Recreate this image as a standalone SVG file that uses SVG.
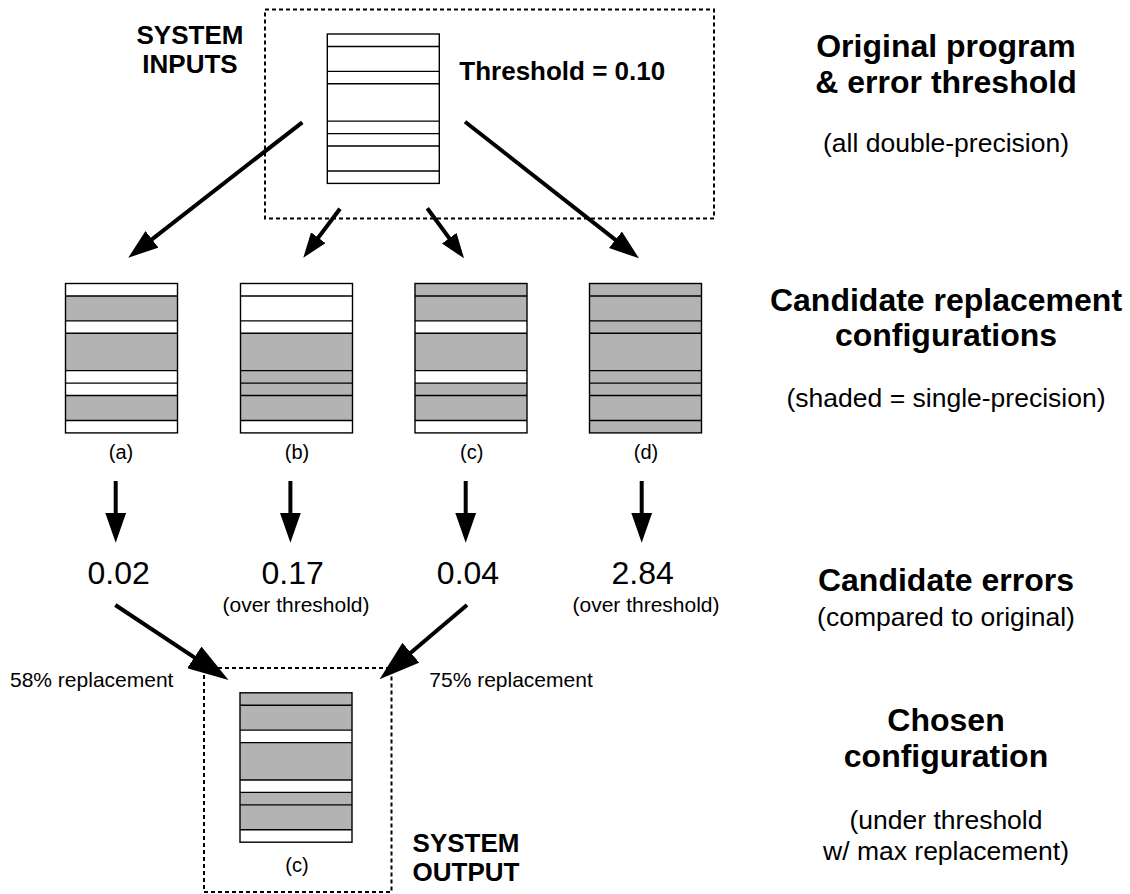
<svg xmlns="http://www.w3.org/2000/svg" xmlns:xlink="http://www.w3.org/1999/xlink" width="1130" height="894" viewBox="0 0 1130 894">
<style>
text{font-family:"Liberation Sans",Arial,sans-serif;fill:#000}
.b{font-weight:bold}
.title{font-weight:bold;font-size:32px;text-anchor:middle}
.sub{font-size:26.5px;text-anchor:middle}
.big{font-weight:bold;font-size:26px}
.lab{font-size:20px;text-anchor:middle}
.num{font-size:32px;text-anchor:middle}
.small{font-size:21px}
.shade{fill:#b3b3b3}
.grid{fill:none;stroke:#000;stroke-width:1.4}
.dash{fill:none;stroke:#000;stroke-width:2;stroke-dasharray:4 3}
.arr{stroke:#000;stroke-width:4;fill:none}
</style>
<defs>
<g id="grid" class="grid">
<rect x="0" y="0" width="112" height="149.4"/>
<path d="M0 12.45H112M0 37.35H112M0 49.8H112M0 87.15H112M0 99.6H112M0 112.05H112M0 136.95H112"/>
</g>
<marker id="ah" viewBox="0 0 30 21" markerWidth="30" markerHeight="21" refX="22" refY="10.5" orient="auto" markerUnits="userSpaceOnUse"><path d="M0,0L30,10.5L0,21z" fill="#000"/></marker>
<marker id="ahS" viewBox="0 0 25 18" markerWidth="25" markerHeight="18" refX="17" refY="9" orient="auto" markerUnits="userSpaceOnUse"><path d="M0,0L25,9L0,18z" fill="#000"/></marker>
<marker id="ahL" viewBox="0 0 41 26" markerWidth="41" markerHeight="26" refX="33" refY="13" orient="auto" markerUnits="userSpaceOnUse"><path d="M0,0L41,13L0,26z" fill="#000"/></marker>
</defs>

<g id="input-frame">
<rect class="dash" x="265" y="9.5" width="449" height="209"/>
<text class="big" x="190" y="43.5" text-anchor="middle">SYSTEM</text>
<text class="big" x="190" y="72.7" text-anchor="middle">INPUTS</text>
<text class="big" x="459.3" y="80">Threshold = 0.10</text>
</g>

<g id="original" transform="translate(327.3,34)">
<rect x="0" y="0" width="112" height="149.4" fill="#fff"/>
<use xlink:href="#grid"/>
</g>

<g id="cand-a" transform="translate(65.5,283.5)">
<rect x="0" y="0" width="112" height="149.4" fill="#fff"/>
<rect class="shade" x="0" y="12.45" width="112" height="24.9"/>
<rect class="shade" x="0" y="49.8" width="112" height="37.35"/>
<rect class="shade" x="0" y="112.05" width="112" height="24.9"/>
<use xlink:href="#grid"/>
<text class="lab" x="55.5" y="175.5">(a)</text>
</g>

<g id="cand-b" transform="translate(240.5,283.5)">
<rect x="0" y="0" width="112" height="149.4" fill="#fff"/>
<rect class="shade" x="0" y="49.8" width="112" height="87.15"/>
<use xlink:href="#grid"/>
<text class="lab" x="56.5" y="175.5">(b)</text>
</g>

<g id="cand-c" transform="translate(415,283.5)">
<rect x="0" y="0" width="112" height="149.4" fill="#fff"/>
<rect class="shade" x="0" y="0" width="112" height="37.35"/>
<rect class="shade" x="0" y="49.8" width="112" height="37.35"/>
<rect class="shade" x="0" y="99.6" width="112" height="37.35"/>
<use xlink:href="#grid"/>
<text class="lab" x="56.7" y="175.5">(c)</text>
</g>

<g id="cand-d" transform="translate(589.5,283.5)">
<rect class="shade" x="0" y="0" width="112" height="149.4"/>
<use xlink:href="#grid"/>
<text class="lab" x="56.5" y="175.5">(d)</text>
</g>

<g id="errors">
<text class="num" x="118.7" y="584">0.02</text>
<text class="num" x="292.6" y="584">0.17</text>
<text class="small" x="296" y="611.5" text-anchor="middle">(over threshold)</text>
<text class="num" x="468" y="584">0.04</text>
<text class="num" x="642.6" y="584">2.84</text>
<text class="small" x="646" y="611.5" text-anchor="middle">(over threshold)</text>
</g>

<g id="output-frame">
<rect class="dash" x="204" y="668" width="187.5" height="224"/>
<text class="big" x="412.6" y="851.7">SYSTEM</text>
<text class="big" x="412.6" y="880.7">OUTPUT</text>
</g>

<g id="chosen" transform="translate(240,692.8)">
<rect x="0" y="0" width="112" height="149.4" fill="#fff"/>
<rect class="shade" x="0" y="0" width="112" height="37.35"/>
<rect class="shade" x="0" y="49.8" width="112" height="37.35"/>
<rect class="shade" x="0" y="99.6" width="112" height="37.35"/>
<use xlink:href="#grid"/>
<text class="lab" x="57" y="179.5">(c)</text>
</g>

<g id="connectors">
<line class="arr" x1="302.3" y1="122.3" x2="134.6" y2="252.8" marker-end="url(#ah)"/>
<line class="arr" x1="340" y1="208.7" x2="308.1" y2="251.3" marker-end="url(#ahS)"/>
<line class="arr" x1="427.3" y1="208.3" x2="459.3" y2="251.9" marker-end="url(#ahS)"/>
<line class="arr" x1="465" y1="121.7" x2="632.7" y2="253.4" marker-end="url(#ah)"/>
<line class="arr" x1="115.7" y1="481" x2="115.7" y2="534.7" marker-end="url(#ah)"/>
<line class="arr" x1="290.4" y1="481" x2="290.4" y2="534.7" marker-end="url(#ah)"/>
<line class="arr" x1="465.7" y1="481" x2="465.7" y2="534.7" marker-end="url(#ah)"/>
<line class="arr" x1="641.7" y1="481" x2="641.7" y2="534.7" marker-end="url(#ah)"/>
<line class="arr" x1="115.3" y1="605" x2="221.8" y2="675.6" marker-end="url(#ahL)"/>
<line class="arr" x1="467" y1="605" x2="385.7" y2="674.1" marker-end="url(#ahL)"/>
<text class="small" x="10" y="687">58% replacement</text>
<text class="small" x="429.3" y="687">75% replacement</text>
</g>

<g id="legend">
<text class="title" x="946" y="57">Original program</text>
<text class="title" x="946" y="93">&amp; error threshold</text>
<text class="sub" x="946" y="152">(all double-precision)</text>
<text class="title" x="946" y="311">Candidate replacement</text>
<text class="title" x="946" y="346">configurations</text>
<text class="sub" x="946" y="407">(shaded = single-precision)</text>
<text class="title" x="946" y="591">Candidate errors</text>
<text class="sub" x="946" y="626">(compared to original)</text>
<text class="title" x="946" y="731">Chosen</text>
<text class="title" x="946" y="767">configuration</text>
<text class="sub" x="946" y="829">(under threshold</text>
<text class="sub" x="946" y="860">w/ max replacement)</text>
</g>
</svg>
